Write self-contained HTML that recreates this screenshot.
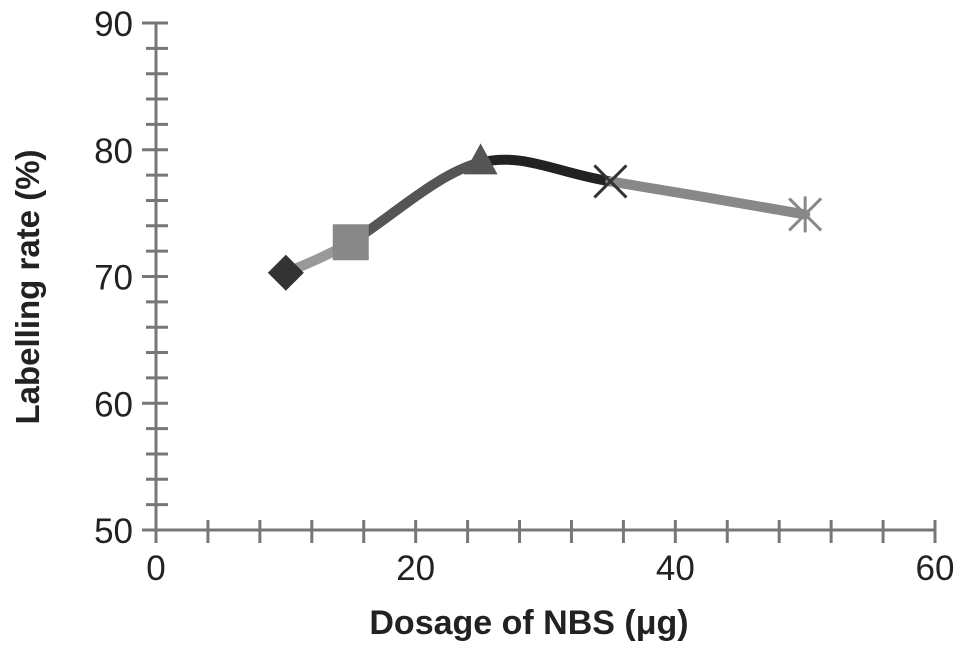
<!DOCTYPE html>
<html><head><meta charset="utf-8"><style>
body{margin:0;background:#fff;}
svg{display:block;font-family:"Liberation Sans",Arial,sans-serif;}
</style></head><body>
<svg id="chart" width="969" height="653" viewBox="0 0 969 653"></svg>
<script>
const xValues=[10,15,25,35,50];
const yValues=[70.3,72.7,79,77.5,74.9];
const xTickLabels=[0,20,40,60];
const yTickLabels=[50,60,70,80,90];
const segColors=['#999','#555','#222','#888'];
const NS='http://www.w3.org/2000/svg';
const svg=document.getElementById('chart');
const X0=156,X1=935,Y0=530,Y1=23;
const sx=v=>X0+(v-0)/(60-0)*(X1-X0);
const sy=v=>Y0-(v-50)/(90-50)*(Y0-Y1);
function mk(tag,attrs,parent){const e=document.createElementNS(NS,tag);for(const k in attrs)e.setAttribute(k,attrs[k]);(parent||svg).appendChild(e);return e;}
const ax='#777';
let g=mk('g',{});


mk('line',{x1:X0,y1:Y1,x2:X0,y2:Y0,stroke:ax,'stroke-width':3},g);
for(let v=50;v<=90;v+=2){const major=(v%10===0);mk('line',{x1:major?X0-14:X0-10,x2:X0+12,y1:sy(v),y2:sy(v),stroke:ax,'stroke-width':3},g);}
yTickLabels.forEach(v=>{const t=mk('text',{x:X0-23,y:sy(v)+13,'text-anchor':'end','font-size':35,fill:'#222'},g);t.textContent=v;

});
g=mk('g',{});


mk('line',{x1:X0,y1:Y0,x2:X1,y2:Y0,stroke:ax,'stroke-width':3},g);
for(let v=0;v<=60;v+=4){mk('line',{x1:sx(v),x2:sx(v),y1:Y0-10,y2:Y0+13,stroke:ax,'stroke-width':3},g);}
xTickLabels.forEach(v=>{const t=mk('text',{x:sx(v),y:Y0+50,'text-anchor':'middle','font-size':35,fill:'#222'},g);t.textContent=v;

});
let t=mk('text',{x:529,y:634,'text-anchor':'middle','font-size':34,'font-weight':'bold',fill:'#222'});
t.textContent='Dosage of NBS (μg)';


t=mk('text',{x:0,y:0,'text-anchor':'middle','font-size':33,'font-weight':'bold',fill:'#222',transform:'translate(39,287) rotate(-90)'});
t.textContent='Labelling rate (%)';


const P=xValues.map((x,i)=>[sx(x),sy(yValues[i])]);
for(let i=0;i<P.length-1;i++){
 const p0=P[Math.max(i-1,0)],p1=P[i],p2=P[i+1],p3=P[Math.min(i+2,P.length-1)];
 const c1=[p1[0]+(p2[0]-p0[0])/6,p1[1]+(p2[1]-p0[1])/6];
 const c2=[p2[0]-(p3[0]-p1[0])/6,p2[1]-(p3[1]-p1[1])/6];
 const s=mk('path',{d:`M${p1[0]},${p1[1]} C${c1[0]},${c1[1]} ${c2[0]},${c2[1]} ${p2[0]},${p2[1]}`,fill:'none',stroke:segColors[i],'stroke-width':10,'stroke-linecap':'round'});
 
 
}
const m=[];
let [x,y]=P[0];
m.push(mk('polygon',{points:`${x},${y-18} ${x+18},${y} ${x},${y+18} ${x-18},${y}`,fill:'#333'}));
[x,y]=P[1];
m.push(mk('rect',{x:x-18,y:y-18,width:36,height:36,fill:'#888'}));
[x,y]=P[2];
m.push(mk('polygon',{points:`${x},${y-19} ${x+17},${y+12} ${x-17},${y+12}`,fill:'#555'}));
[x,y]=P[3];
m.push(mk('path',{d:`M${x-16},${y-16}L${x+16},${y+16}M${x+16},${y-16}L${x-16},${y+16}`,stroke:'#333','stroke-width':3}));
[x,y]=P[4];
m.push(mk('path',{d:`M${x-16},${y-16}L${x+16},${y+16}M${x+16},${y-16}L${x-16},${y+16}M${x},${y-18}L${x},${y+18}`,stroke:'#888','stroke-width':3}));
m.forEach(e=>{
 
 
});
</script>
</body></html>
